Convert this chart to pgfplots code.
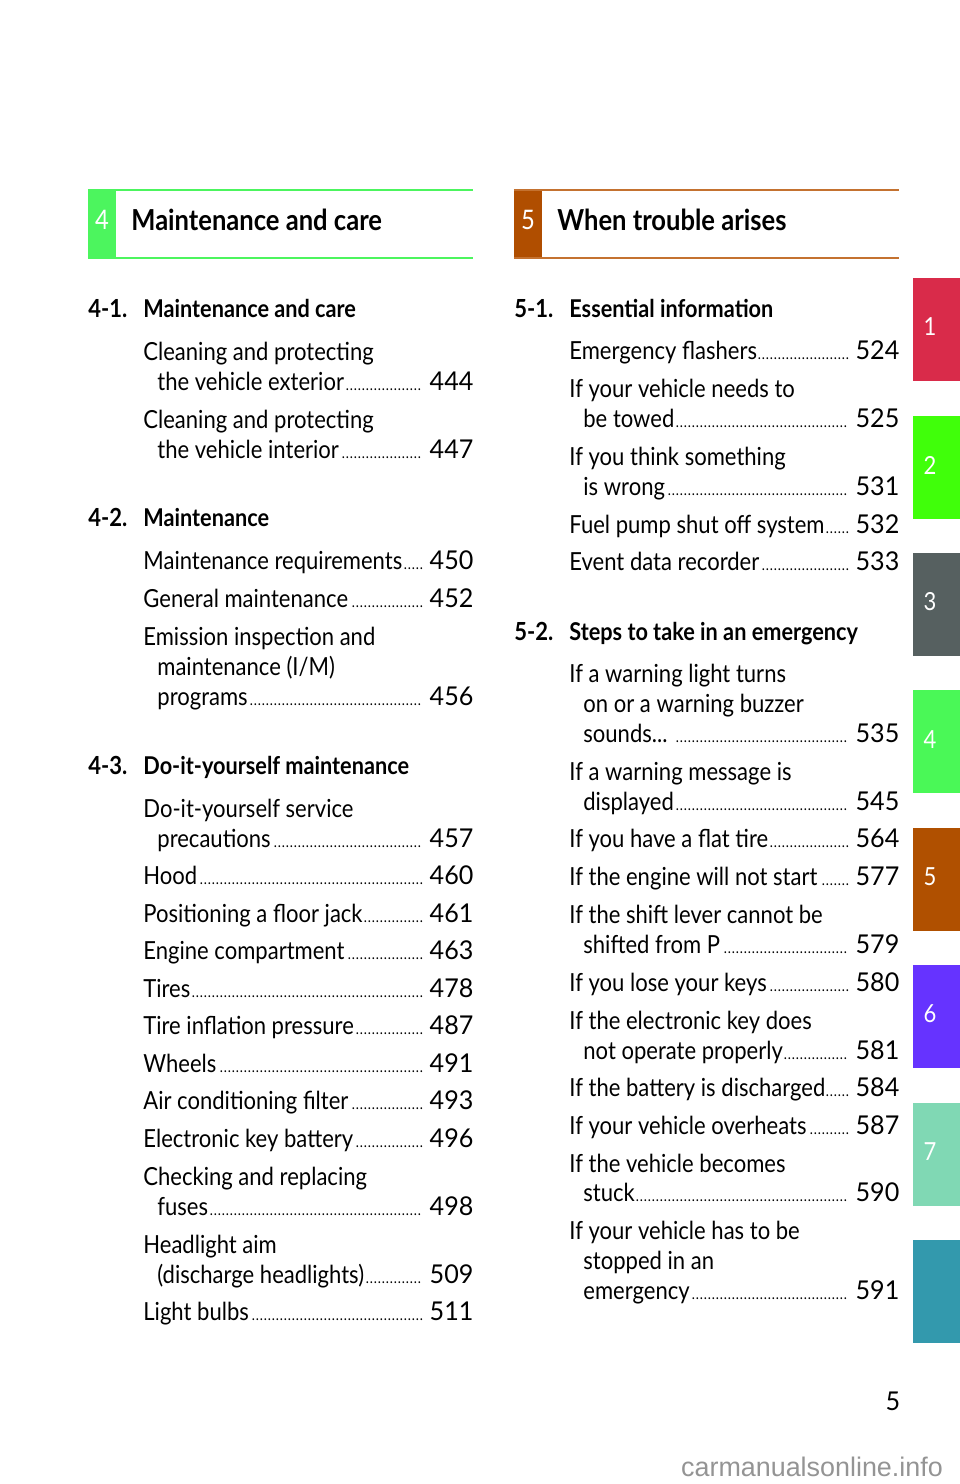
\documentclass[border=0pt]{standalone}
\usepackage{pgfplots}
\pgfplotsset{compat=1.18}
\usepackage{fontspec}
\setmainfont{Lato}[FakeStretch=0.885]
\newfontfamily\pgfont{Lato}[FakeStretch=0.97]
\newfontfamily\wmfont{Liberation Sans}

\definecolor{hdrgreen}{RGB}{76,245,94}
\definecolor{hdrbrown}{RGB}{176,78,0}
\definecolor{linebrown}{RGB}{196,114,48}
\definecolor{tabred}{RGB}{217,43,74}
\definecolor{tabgreen}{RGB}{64,255,10}
\definecolor{tabgray}{RGB}{86,96,96}
\definecolor{tabgreenb}{RGB}{74,248,87}
\definecolor{tabbrown}{RGB}{176,80,0}
\definecolor{tabpurple}{RGB}{102,51,255}
\definecolor{tabmint}{RGB}{128,216,180}
\definecolor{tabteal}{RGB}{51,153,173}

% x, y (pixel grid), right edge, text, page
\newcommand\dotfont{\fontsize{7.5}{8}\selectfont}
\newcommand\ent[5]{\node[anchor=base west,inner sep=0pt,font=\fontsize{12.5}{14}\selectfont] at (axis cs:#1,#2)
  {\hbox to \dimexpr(#3bp-#1bp)/2\relax{#4\leaders\hbox to 2bp{\hss\dotfont.\hss}\hfill\ {\pgfont\fontsize{13}{14}\selectfont#5}}};}
\newcommand\txt[3]{\node[anchor=base west,inner sep=0pt,font=\fontsize{12.5}{14}\selectfont] at (axis cs:#1,#2) {#3};}
\newcommand\sect[4]{\node[anchor=base west,inner sep=0pt,font=\fontsize{12.5}{14}\selectfont\bfseries] at (axis cs:#1,#3) {#2};
  \node[anchor=base west,inner sep=0pt,font=\fontsize{12.3}{14}\selectfont\bfseries] at (axis cs:#1+55,#3) {#4};}
\newcommand\tabnum[2]{\node[text=white, font=\fontsize{12.5}{12}\selectfont] at (axis cs:930,#2) {#1};}

\begin{document}
\begin{tikzpicture}
\begin{axis}[
  scale only axis, width=480bp, height=742bp,
  xmin=0, xmax=960, ymin=0, ymax=1484, y dir=reverse,
  hide axis, clip=false,
]
\path (axis cs:0,0) rectangle (axis cs:960,1484);

% chapter headers
\addplot[draw=none, fill=hdrgreen] coordinates {(88,190) (116,190) (116,258) (88,258)} -- cycle;
\addplot[hdrgreen, line width=1.2bp] coordinates {(88,190) (473,190)};
\addplot[hdrgreen, line width=1.2bp] coordinates {(88,258) (473,258)};
\addplot[draw=none, fill=hdrbrown] coordinates {(514,190) (542,190) (542,258) (514,258)} -- cycle;
\addplot[linebrown, line width=1.2bp] coordinates {(514,190) (899,190)};
\addplot[linebrown, line width=1.2bp] coordinates {(514,258) (899,258)};

% side tabs
\addplot[draw=none, fill=tabred] coordinates {(913,278) (960,278) (960,381) (913,381)} -- cycle;
\addplot[draw=none, fill=tabgreen] coordinates {(913,416) (960,416) (960,519) (913,519)} -- cycle;
\addplot[draw=none, fill=tabgray] coordinates {(913,553) (960,553) (960,656) (913,656)} -- cycle;
\addplot[draw=none, fill=tabgreenb] coordinates {(913,690) (960,690) (960,793) (913,793)} -- cycle;
\addplot[draw=none, fill=tabbrown] coordinates {(913,828) (960,828) (960,931) (913,931)} -- cycle;
\addplot[draw=none, fill=tabpurple] coordinates {(913,965) (960,965) (960,1068) (913,1068)} -- cycle;
\addplot[draw=none, fill=tabmint] coordinates {(913,1103) (960,1103) (960,1206) (913,1206)} -- cycle;
\addplot[draw=none, fill=tabteal] coordinates {(913,1240) (960,1240) (960,1343) (913,1343)} -- cycle;

\tabnum{1}{327}
\tabnum{2}{465}
\tabnum{3}{602}
\tabnum{4}{740}
\tabnum{5}{877}
\tabnum{6}{1014}
\tabnum{7}{1152}

\node[text=white, font=\fontsize{13.5}{13}\selectfont] at (axis cs:102,220) {4};
\node[text=white, font=\fontsize{13.5}{13}\selectfont] at (axis cs:528,220) {5};
\node[anchor=base west, inner sep=0pt, font=\fontsize{14.5}{15}\selectfont\bfseries] at (axis cs:131,230) {Maintenance and care};
\node[anchor=base west, inner sep=0pt, font=\fontsize{14.5}{15}\selectfont\bfseries] at (axis cs:557,230) {When trouble arises};

% left column
\sect{88}{4-1.}{317}{Maintenance and care}
\txt{143}{360}{Cleaning and protecting}
\ent{157}{390}{473}{the vehicle exterior}{444}
\txt{143}{428}{Cleaning and protecting}
\ent{157}{458}{473}{the vehicle interior}{447}
\sect{88}{4-2.}{526}{Maintenance}
\ent{143}{569}{473}{Maintenance requirements}{450}
\ent{143}{607}{473}{General maintenance}{452}
\txt{143}{645}{Emission inspection and}
\txt{157}{675}{maintenance (I/M)}
\ent{157}{705}{473}{programs}{456}
\sect{88}{4-3.}{774}{Do-it-yourself maintenance}
\txt{143}{817}{Do-it-yourself service}
\ent{157}{847}{473}{precautions}{457}
\ent{143}{884}{473}{Hood}{460}
\ent{143}{922}{473}{Positioning a floor jack}{461}
\ent{143}{959}{473}{Engine compartment}{463}
\ent{143}{997}{473}{Tires}{478}
\ent{143}{1034}{473}{Tire inflation pressure}{487}
\ent{143}{1072}{473}{Wheels}{491}
\ent{143}{1109}{473}{Air conditioning filter}{493}
\ent{143}{1147}{473}{Electronic key battery}{496}
\txt{143}{1185}{Checking and replacing}
\ent{157}{1215}{473}{fuses}{498}
\txt{143}{1253}{Headlight aim}
\ent{157}{1283}{473}{(discharge headlights)}{509}
\ent{143}{1320}{473}{Light bulbs}{511}

% right column
\sect{514}{5-1.}{317}{Essential information}
\ent{569}{359}{899}{Emergency flashers}{524}
\txt{569}{397}{If your vehicle needs to}
\ent{583}{427}{899}{be towed}{525}
\txt{569}{465}{If you think something}
\ent{583}{495}{899}{is wrong}{531}
\ent{569}{533}{899}{Fuel pump shut off system}{532}
\ent{569}{570}{899}{Event data recorder}{533}
\sect{514}{5-2.}{640}{Steps to take in an emergency}
\txt{569}{682}{If a warning light turns}
\txt{583}{712}{on or a warning buzzer}
\ent{583}{742}{899}{sounds...\ }{535}
\txt{569}{780}{If a warning message is}
\ent{583}{810}{899}{displayed}{545}
\ent{569}{847}{899}{If you have a flat tire}{564}
\ent{569}{885}{899}{If the engine will not start}{577}
\txt{569}{923}{If the shift lever cannot be}
\ent{583}{953}{899}{shifted from P}{579}
\ent{569}{991}{899}{If you lose your keys}{580}
\txt{569}{1029}{If the electronic key does}
\ent{583}{1059}{899}{not operate properly}{581}
\ent{569}{1096}{899}{If the battery is discharged}{584}
\ent{569}{1134}{899}{If your vehicle overheats}{587}
\txt{569}{1172}{If the vehicle becomes}
\ent{583}{1201}{899}{stuck}{590}
\txt{569}{1239}{If your vehicle has to be}
\txt{583}{1269}{stopped in an}
\ent{583}{1299}{899}{emergency}{591}

% page number and watermark
\node[font=\pgfont\fontsize{13}{13}\selectfont] at (axis cs:893,1401) {5};
\node[text=black!42, font=\wmfont\fontsize{13.5}{14}\selectfont] at (axis cs:812,1467) {carmanualsonline.info};
\end{axis}
\end{tikzpicture}
\end{document}
